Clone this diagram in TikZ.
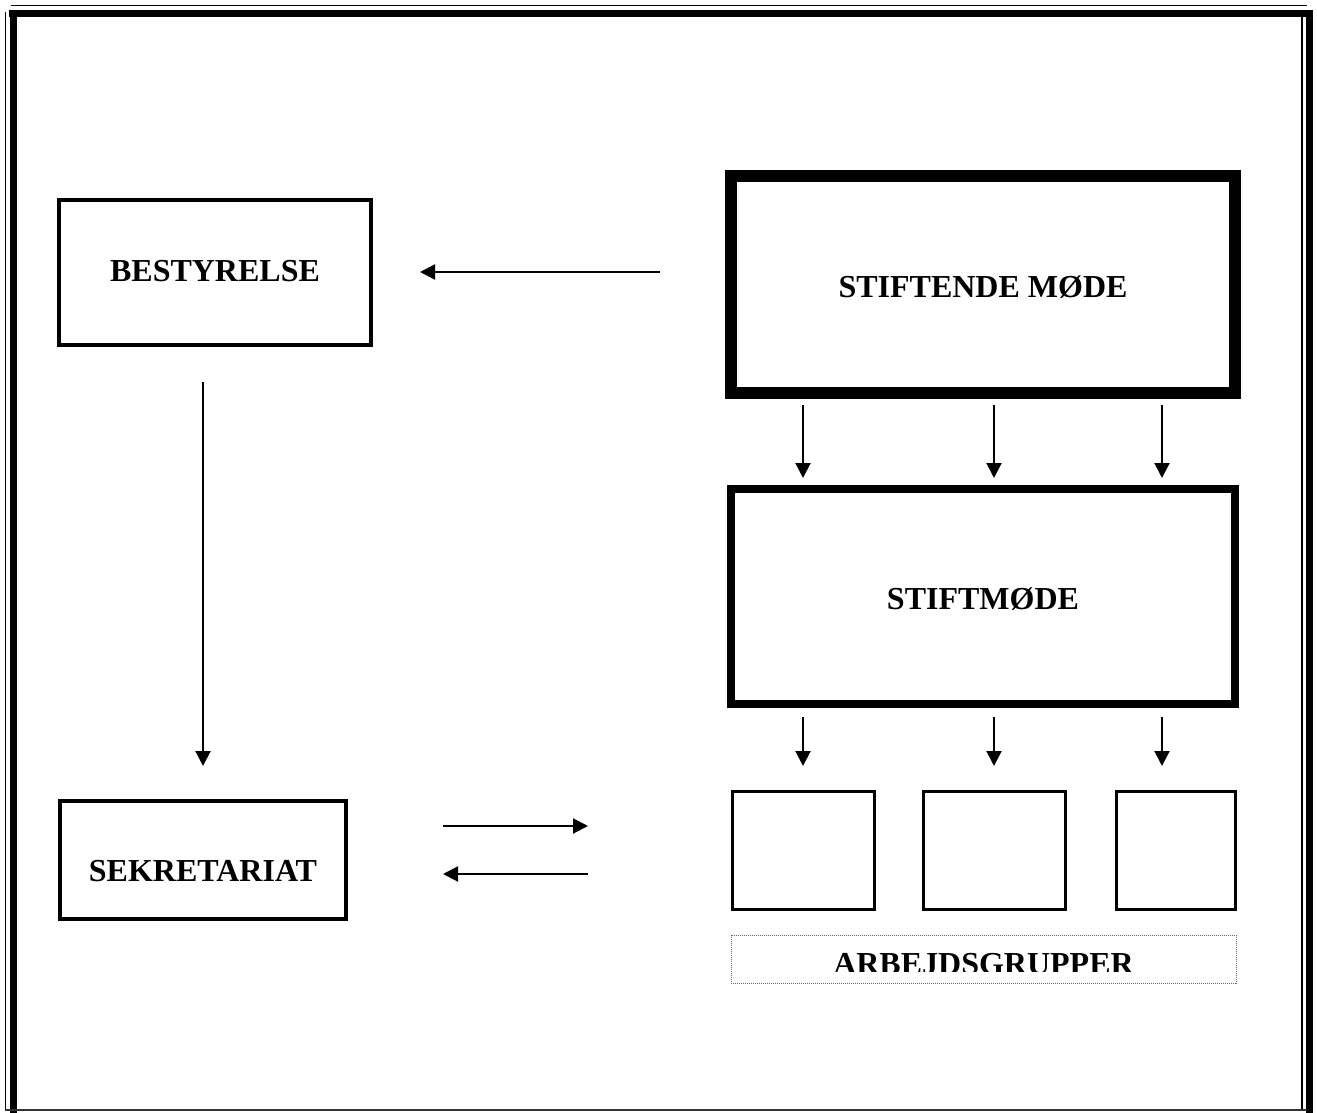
\documentclass[tikz,border=0pt]{standalone}
\usepackage{fontspec}
\setmainfont{Liberation Serif}
\usetikzlibrary{arrows.meta}
\begin{document}
\begin{tikzpicture}[x=1pt,y=-1pt,
  box/.style={draw,line width=4pt,inner sep=0pt,outer sep=0pt},
  lbl/.style={font=\bfseries\fontsize{32}{38}\selectfont,anchor=base,inner sep=0pt},
  arr/.style={line width=2pt,-{Triangle[length=15pt,width=15pt]}},
  frthin/.style={line width=1.5pt},
  frthick/.style={line width=7pt}]
\useasboundingbox (0,0) rectangle (1317,1113);
% page border
\draw[frthin] (11,5.5) -- (1307,5.5);
\draw[frthick] (9,13.5) -- (1313,13.5);
\draw[frthin] (5.5,12) -- (5.5,1110);
\draw[frthick] (13.5,10) -- (13.5,1113);
\draw[frthin] (1302,17) -- (1302,1110);
\draw[frthick] (1309.5,10) -- (1309.5,1113);
\draw[frthin,black!80] (5,1110) -- (1307,1110);
% boxes
\node[box,minimum width=312,minimum height=145] (best) at (215,272.5) {};
\node[lbl] (bestT) at (215,281) {BESTYRELSE};
\node[box,line width=12pt,minimum width=504,minimum height=217] (stiftende) at (983,284.5) {};
\node[lbl] (stiftendeT) at (983,297) {STIFTENDE MØDE};
\node[box,line width=8pt,minimum width=504,minimum height=215] (stiftm) at (983,596.5) {};
\node[lbl] (stiftmT) at (983,609) {STIFTMØDE};
\node[box,minimum width=286,minimum height=118] (sekr) at (203,860) {};
\node[lbl] (sekrT) at (203,881) {SEKRETARIAT};
\node[box,line width=3pt,minimum width=142,minimum height=118] (g1) at (803.5,850.5) {};
\node[box,line width=3pt,minimum width=142,minimum height=118] (g2) at (994.5,850.5) {};
\node[box,line width=3pt,minimum width=119,minimum height=118] (g3) at (1176,850.5) {};
\node[draw=black!60,line width=1pt,dash pattern=on 1pt off 1pt,minimum width=505,minimum height=48,inner sep=0pt] (arb) at (983.5,959) {};
\begin{scope}
  \clip (731,935) rectangle (1236,971.5);
  \node[lbl] (arbT) at (983.5,974) {ARBEJDSGRUPPER};
\end{scope}
% connector end points
\coordinate (a1s) at (660,272);  \coordinate (a1e) at (420,272);
\coordinate (a2s) at (203,382);  \coordinate (a2e) at (203,766);
\coordinate (a3s) at (443,826);  \coordinate (a3e) at (588,826);
\coordinate (a4s) at (588,874);  \coordinate (a4e) at (443,874);
\draw[arr] (a1s) -- (a1e);
\draw[arr] (a2s) -- (a2e);
\draw[arr] (a3s) -- (a3e);
\draw[arr] (a4s) -- (a4e);
\foreach \x/\n in {803/1,994/2,1162/3}{
  \coordinate (u\n s) at (\x,405); \coordinate (u\n e) at (\x,478);
  \coordinate (d\n s) at (\x,717); \coordinate (d\n e) at (\x,766);
  \draw[arr] (u\n s) -- (u\n e);
  \draw[arr] (d\n s) -- (d\n e);
}
\end{tikzpicture}
\end{document}
